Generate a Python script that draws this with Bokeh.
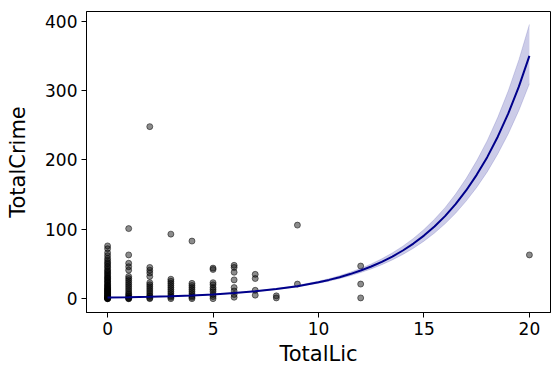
from bokeh.plotting import figure
from bokeh.models import Range1d, FixedTicker, ColumnDataSource
from bokeh.embed import file_html
from bokeh.resources import INLINE

# ---- scatter data (TotalLic -> list of TotalCrime values) ----
lic_0 = [0, 0, 0, 1, 1, 2, 2, 3, 4, 5, 6, 7, 8, 9, 10, 11, 12, 13, 14, 15, 16, 18, 19,
         20, 22, 24, 25, 27, 29, 30, 32, 34, 36, 38, 40, 42, 45, 47, 50, 52, 55, 58,
         62, 66, 72, 76]
lic_1 = [101, 63, 51, 46, 41, 32, 29, 26, 23, 20, 17, 14, 11, 8, 6, 4, 2, 1, 0, 0]
lic_2 = [248, 45, 41, 37, 32, 23, 20, 17, 14, 11, 8, 5, 3, 1, 0]
lic_3 = [93, 28, 25, 22, 19, 16, 13, 10, 7, 4, 2, 0]
lic_4 = [83, 22, 19, 16, 13, 10, 7, 4, 2, 0]
lic_5 = [44, 42, 23, 20, 16, 13, 10, 6, 3, 0]
lic_6 = [48, 45, 38, 27, 16, 11, 6, 2]
lic_7 = [35, 29, 12, 5]
lic_8 = [4, 1]
lic_9 = [106, 21]
lic_12 = [47, 21, 1]
lic_20 = [63]

groups = {0: lic_0, 1: lic_1, 2: lic_2, 3: lic_3, 4: lic_4, 5: lic_5, 6: lic_6,
          7: lic_7, 8: lic_8, 9: lic_9, 12: lic_12, 20: lic_20}

# ---- fitted curve with confidence band ----
fit_x = [0, 1, 2, 3, 4, 5, 6, 7, 8, 9, 10, 10.5, 11, 11.5, 12, 12.5, 13, 13.5, 14,
         14.5, 15, 15.5, 16, 16.5, 17, 17.5, 18, 18.5, 19, 19.5, 20]
fit_y = [1.59, 2.08, 2.73, 3.57, 4.68, 6.13, 8.02, 10.5, 13.8, 18.0, 23.6, 27.0,
         30.9, 35.4, 40.5, 46.3, 53.0, 60.7, 69.4, 79.4, 90.9, 104.0, 119, 136.2,
         156, 178.5, 204, 233.5, 267, 305.6, 350]
fit_upper = [1.64, 2.12, 2.79, 3.66, 4.82, 6.35, 8.35, 10.98, 14.51, 19.04, 25.11,
             28.81, 33.08, 38.01, 43.61, 50.00, 57.41, 65.95, 75.63, 86.79, 99.66,
             114.4, 131.2, 150.7, 173.1, 198.7, 227.7, 261.4, 299.8, 344.2, 395.4]
fit_lower = [1.54, 2.04, 2.68, 3.48, 4.54, 5.92, 7.71, 10.04, 13.13, 17.02, 22.18,
             25.30, 28.87, 32.97, 37.61, 42.87, 48.93, 55.87, 63.68, 72.64, 82.91,
             94.57, 107.9, 123.1, 140.6, 160.4, 182.7, 208.6, 237.8, 271.3, 309.8]

x_ticks = [0, 5, 10, 15, 20]
y_ticks = [0, 100, 200, 300, 400]

sx, sy = [], []
for k, vals in groups.items():
    for v in vals:
        sx.append(k)
        sy.append(v)

p = figure(width=558, height=377, output_backend="svg", toolbar_location=None,
           x_range=Range1d(-1, 21), y_range=Range1d(-20, 414),
           min_border_left=86, min_border_right=8, min_border_top=11,
           min_border_bottom=65)
p.background_fill_color = "white"
p.border_fill_color = "white"
p.outline_line_color = "black"
p.outline_line_width = 1
p.xgrid.visible = False
p.ygrid.visible = False

p.scatter(sx, sy, size=6, fill_color="black", fill_alpha=0.45,
          line_color="black", line_alpha=0.5, line_width=1)

src = ColumnDataSource(dict(x=fit_x, y=fit_y, lo=fit_lower, hi=fit_upper))
p.varea(x="x", y1="lo", y2="hi", source=src, fill_color="darkblue", fill_alpha=0.2)
p.line(x="x", y="hi", source=src, line_color="darkblue", line_alpha=0.15, line_width=1)
p.line(x="x", y="lo", source=src, line_color="darkblue", line_alpha=0.15, line_width=1)
p.line(x="x", y="y", source=src, line_color="darkblue", line_width=2)

for ax in (p.xaxis[0], p.yaxis[0]):
    ax.axis_line_color = "black"
    ax.major_tick_line_color = "black"
    ax.major_tick_out = 5
    ax.major_tick_in = 0
    ax.minor_tick_line_color = None
    ax.major_label_text_font = "DejaVu Sans"
    ax.major_label_text_font_size = "17px"
    ax.major_label_text_color = "black"
    ax.axis_label_text_font = "DejaVu Sans"
    ax.axis_label_text_font_size = "21px"
    ax.axis_label_text_font_style = "normal"
    ax.axis_label_text_color = "black"
    ax.major_label_standoff = 4

p.xaxis.ticker = FixedTicker(ticks=x_ticks)
p.yaxis.ticker = FixedTicker(ticks=y_ticks)
p.xaxis.axis_label = "TotalLic"
p.yaxis.axis_label = "TotalCrime"
p.xaxis.axis_label_standoff = 4
p.yaxis.axis_label_standoff = 12

open("out.html", "w").write(file_html(p, INLINE))
